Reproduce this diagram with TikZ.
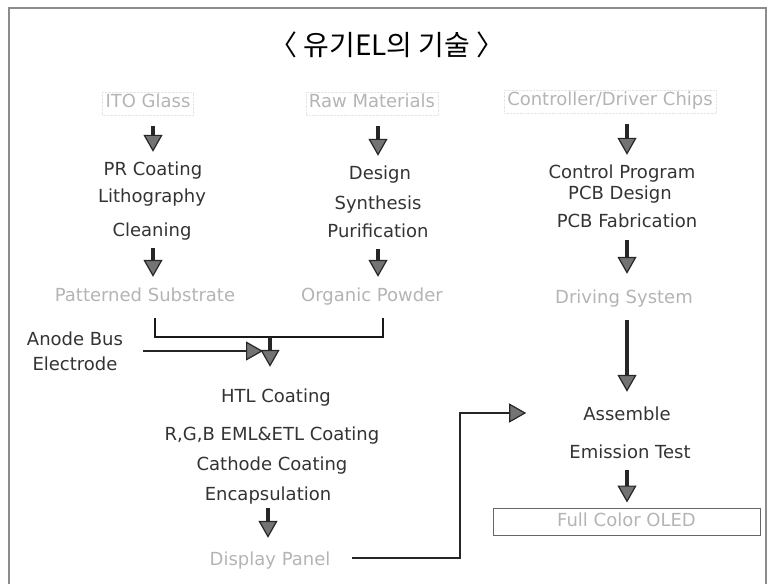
\documentclass[tikz,border=0pt]{standalone}
\usepackage{fontspec}
\setmainfont{DejaVu Sans}
\newfontfamily\cjk{Noto Sans CJK KR}
\usetikzlibrary{arrows.meta,calc}

\definecolor{inkgray}{HTML}{333333}
\definecolor{palegray}{HTML}{B4B4B4}
\definecolor{framegray}{HTML}{8C8C8C}

\begin{document}
\begin{tikzpicture}[x=1bp,y=-1bp]
% Define styles
\tikzset{
    stage/.style={font=\fontsize{18bp}{20bp}\selectfont, text=inkgray, inner sep=0pt,
        text height=13bp, text depth=4bp, anchor=base},
    faint/.style={stage, text=palegray},
    source/.style={faint, draw=black!10, densely dotted, inner sep=3bp},
    sidenote/.style={font=\fontsize{18bp}{25bp}\selectfont, text=inkgray, inner sep=0pt, align=center},
    flow/.style={-{Triangle[width=19bp,length=17bp,fill=black!55,line width=1.2bp]},
        line width=3.5bp, draw=black!85, shorten <=11bp, shorten >=11bp},
    link/.style={line width=2bp, draw=black!90},
    title/.style={font=\cjk\fontsize{28bp}{32bp}\selectfont}
}
\useasboundingbox (0,0) rectangle (775,584);

% Frame (open at the bottom)
\draw[framegray, line width=1.5bp] (9,590) -- (9,8) -- (766,8) -- (766,590);

% Title
\node[title] (title) at (387,45) {〈 유기EL의 기술 〉};

% Sources
\node[source] (ito) at (148,108) {ITO Glass};
\node[source] (raw) at (372,108) {Raw Materials};
\node[source] (chips) at (610,106) {Controller/Driver Chips};

% Substrate column
\node[stage] (prc) at (153,176) {PR Coating};
\node[stage] (litho) at (152,203) {Lithography};
\node[stage] (clean) at (152,236) {Cleaning};
\node[faint] (subst) at (145,301) {Patterned Substrate};

% Material column
\node[stage] (design) at (380,180) {Design};
\node[stage] (synth) at (378,210) {Synthesis};
\node[stage] (purif) at (378,237) {Purification};
\node[faint] (powder) at (372,301) {Organic Powder};

% Driver column
\node[stage] (prog) at (622,179) {Control Program};
\node[stage] (pcbd) at (620,200) {PCB Design};
\node[stage] (pcbf) at (627,228) {PCB Fabrication};
\node[faint] (drive) at (624,303) {Driving System};

% Panel process
\node[sidenote] (anode) at (75,351) {Anode Bus\\Electrode};
\node[stage] (htl) at (276,402) {HTL Coating};
\node[stage] (rgb) at (272,440) {R,G,B EML\&ETL Coating};
\node[stage] (cath) at (272,470) {Cathode Coating};
\node[stage] (encap) at (268,500) {Encapsulation};
\node[faint] (panel) at (270,565) {Display Panel};

% Module
\node[stage] (assemble) at (627,420) {Assemble};
\node[stage] (emission) at (630,458) {Emission Test};
\node[faint, anchor=center, draw=black!60, line width=1bp, minimum width=267bp,
    minimum height=27bp] (oled) at (626.5,521.5) {Full Color OLED};

% Arrows
\draw[flow] (ito.south -| prc) -- (prc.north);
\draw[flow] (raw.south -| synth) -- (design.north -| synth);
\draw[flow] (chips.south -| pcbf) -- (prog.north -| pcbf);
\draw[flow, shorten <=8bp] (clean.south -| prc) -- (subst.north -| prc);
\draw[flow, shorten <=8bp] (purif.south) -- (powder.north -| purif);
\draw[flow, shorten <=8bp, shorten >=16bp] (pcbf.south) -- (drive.north -| pcbf);

% Merge
\coordinate (join) at (270,337);
\draw[link] ($(subst.south -| prc)+(2,13)$) |- (join) -| ($(powder.south)+(11,13)$);
\draw[flow, shorten <=0bp, shorten >=22bp] (join) -- (htl.north -| join);
\draw[flow, line width=2.5bp, shorten <=20bp, shorten >=7bp] (anode.east) -- (anode.east -| join);

\draw[flow, shorten <=4bp, shorten >=14bp] (encap.south) -- (panel.north -| encap);
\draw[flow, shorten <=13bp, shorten >=15bp] (drive.south -| pcbf) -- (assemble.north -| pcbf);
\draw[flow, shorten <=8bp, shorten >=5bp] (emission.south -| pcbf) -- (oled.north -| pcbf);

\coordinate (turn) at (460,413);
\draw[flow, line width=2bp, shorten <=21bp, shorten >=57bp]
    ($(panel.east)+(0,-3)$) -| (turn) -- (assemble.west |- turn);

\end{tikzpicture}
\end{document}
